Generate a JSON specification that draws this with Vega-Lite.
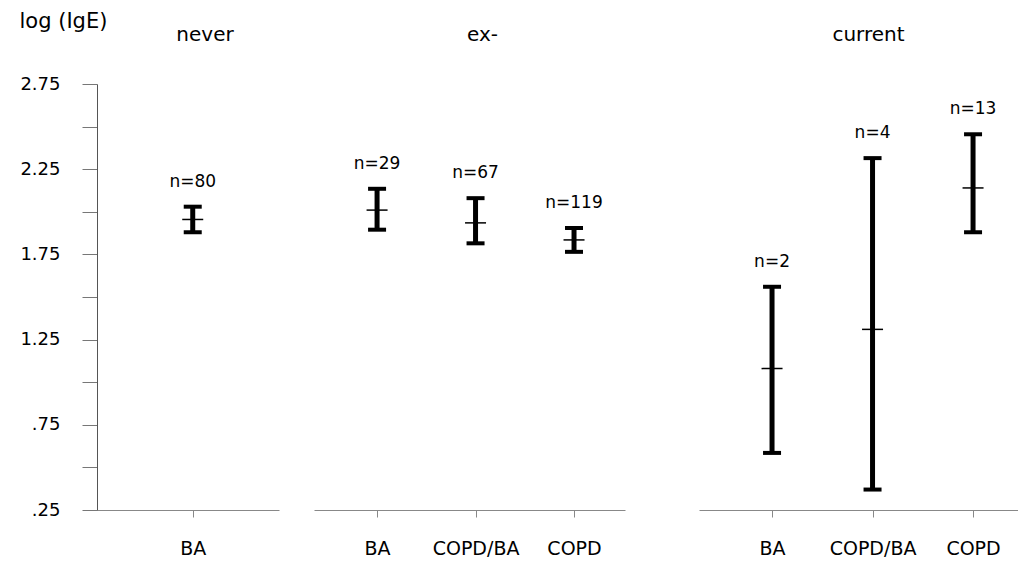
{
  "$schema": "https://vega.github.io/schema/vega-lite/v6.json",
  "padding": {"left": 19, "top": 10, "right": 0, "bottom": 0},
  "background": "white",
  "config": {
    "view": {"stroke": null},
    "font": "DejaVu Sans",
    "tick": {"opacity": 1},
    "axis": {"labelFont": "DejaVu Sans", "titleFont": "DejaVu Sans", "labelColor": "black", "titleColor": "black", "grid": false},
    "title": {"font": "DejaVu Sans", "fontWeight": "normal", "fontSize": 20, "color": "black"}
  },
  "datasets": {
    "igE": [
      {"smoking": "never", "group": "BA", "lower": 1.88, "mean": 1.955, "upper": 2.03, "label": "n=80"},
      {"smoking": "ex-", "group": "BA", "lower": 1.895, "mean": 2.01, "upper": 2.135, "label": "n=29"},
      {"smoking": "ex-", "group": "COPD/BA", "lower": 1.815, "mean": 1.935, "upper": 2.08, "label": "n=67"},
      {"smoking": "ex-", "group": "COPD", "lower": 1.765, "mean": 1.835, "upper": 1.905, "label": "n=119"},
      {"smoking": "current", "group": "BA", "lower": 0.585, "mean": 1.08, "upper": 1.56, "label": "n=2"},
      {"smoking": "current", "group": "COPD/BA", "lower": 0.37, "mean": 1.31, "upper": 2.315, "label": "n=4"},
      {"smoking": "current", "group": "COPD", "lower": 1.88, "mean": 2.14, "upper": 2.455, "label": "n=13"}
    ]
  },
  "hconcat": [
    {
      "spacing": 35,
      "hconcat": [
        {
          "width": 182,
          "height": 426,
          "title": {"text": "never", "frame": "group", "offset": -35, "dx": 17},
          "data": {"name": "igE"},
          "transform": [{"filter": "datum.smoking === 'never'"}],
          "encoding": {
            "x": {"field": "group", "type": "nominal", "sort": ["BA", "COPD/BA", "COPD"],
              "scale": {"type": "point", "padding": 0.5, "align": 0.526},
              "axis": {"title": null, "labelAngle": 0, "labelFontSize": 19, "labelPadding": 22, "tickSize": 7, "tickColor": "#888", "domainColor": "#888", "labelBaseline": "top"}}
          },
          "layer": [
            {"mark": {"type": "rule", "strokeWidth": 5, "color": "black"},
              "encoding": {"y": {"field": "lower", "type": "quantitative", "scale": {"domain": [0.25, 2.75], "nice": false, "zero": false},
                "axis": {"values": [0.25, 0.5, 0.75, 1, 1.25, 1.5, 1.75, 2, 2.25, 2.5, 2.75],
                  "labelExpr": "(datum.value * 100) % 50 == 25 ? (datum.value < 1 ? substring(format(datum.value, '.2f'), 1) : format(datum.value, '.2f')) : ''",
                  "tickSize": 15, "tickColor": "#777", "domainColor": "#555", "labelFontSize": 18, "labelPadding": 22,
                  "title": "log (IgE)", "titleAngle": 0, "titleAlign": "left", "titleBaseline": "top", "titleX": -78, "titleY": -74, "titleFontSize": 21, "titleFontWeight": "normal"}},
                "y2": {"field": "upper"}}},
            {"mark": {"type": "tick", "thickness": 4, "size": 18, "color": "black", "opacity": 1},
              "encoding": {"y": {"field": "lower", "type": "quantitative"}}},
            {"mark": {"type": "tick", "thickness": 4, "size": 18, "color": "black", "opacity": 1},
              "encoding": {"y": {"field": "upper", "type": "quantitative"}}},
            {"mark": {"type": "tick", "thickness": 1.5, "size": 21, "color": "black", "opacity": 1},
              "encoding": {"y": {"field": "mean", "type": "quantitative"}}},
            {"mark": {"type": "text", "dy": -25, "fontSize": 17, "color": "black", "baseline": "middle"},
              "encoding": {"y": {"field": "upper", "type": "quantitative"}, "text": {"field": "label"}}}
          ]
        },
        {
          "width": 311,
          "height": 426,
          "title": {"text": "ex-", "frame": "group", "offset": 39, "dx": 13},
          "data": {"name": "igE"},
          "transform": [{"filter": "datum.smoking === 'ex-'"}],
          "encoding": {
            "x": {"field": "group", "type": "nominal", "sort": ["BA", "COPD/BA", "COPD"],
              "scale": {"type": "point", "padding": 0.579, "align": 0.553},
              "axis": {"title": null, "labelAngle": 0, "labelFontSize": 19, "labelPadding": 22, "tickSize": 7, "tickColor": "#888", "domainColor": "#888", "labelBaseline": "top"}}
          },
          "layer": [
            {"mark": {"type": "rule", "strokeWidth": 5, "color": "black"},
              "encoding": {"y": {"field": "lower", "type": "quantitative", "scale": {"domain": [0.25, 2.75], "nice": false, "zero": false}, "axis": null},
                "y2": {"field": "upper"}}},
            {"mark": {"type": "tick", "thickness": 4, "size": 18, "color": "black", "opacity": 1},
              "encoding": {"y": {"field": "lower", "type": "quantitative"}}},
            {"mark": {"type": "tick", "thickness": 4, "size": 18, "color": "black", "opacity": 1},
              "encoding": {"y": {"field": "upper", "type": "quantitative"}}},
            {"mark": {"type": "tick", "thickness": 1.5, "size": 21, "color": "black", "opacity": 1},
              "encoding": {"y": {"field": "mean", "type": "quantitative"}}},
            {"mark": {"type": "text", "dy": -25, "fontSize": 17, "color": "black", "baseline": "middle"},
              "encoding": {"y": {"field": "upper", "type": "quantitative"}, "text": {"field": "label"}}}
          ]
        }
      ]
    },
    {
      "width": 319,
      "height": 426,
      "title": {"text": "current", "frame": "group", "offset": 39, "dx": 10},
      "data": {"name": "igE"},
      "transform": [{"filter": "datum.smoking === 'current'"}],
      "encoding": {
        "x": {"field": "group", "type": "nominal", "sort": ["BA", "COPD/BA", "COPD"],
          "scale": {"type": "point", "padding": 0.587, "align": 0.619},
          "axis": {"title": null, "labelAngle": 0, "labelFontSize": 19, "labelPadding": 22, "tickSize": 7, "tickColor": "#888", "domainColor": "#888", "labelBaseline": "top"}}
      },
      "layer": [
        {"mark": {"type": "rule", "strokeWidth": 5, "color": "black"},
          "encoding": {"y": {"field": "lower", "type": "quantitative", "scale": {"domain": [0.25, 2.75], "nice": false, "zero": false}, "axis": null},
            "y2": {"field": "upper"}}},
        {"mark": {"type": "tick", "thickness": 4, "size": 18, "color": "black", "opacity": 1},
          "encoding": {"y": {"field": "lower", "type": "quantitative"}}},
        {"mark": {"type": "tick", "thickness": 4, "size": 18, "color": "black", "opacity": 1},
          "encoding": {"y": {"field": "upper", "type": "quantitative"}}},
        {"mark": {"type": "tick", "thickness": 1.5, "size": 21, "color": "black", "opacity": 1},
          "encoding": {"y": {"field": "mean", "type": "quantitative"}}},
        {"mark": {"type": "text", "dy": -25, "fontSize": 17, "color": "black", "baseline": "middle"},
          "encoding": {"y": {"field": "upper", "type": "quantitative"}, "text": {"field": "label"}}}
      ]
    }
  ],
  "spacing": 74
}
